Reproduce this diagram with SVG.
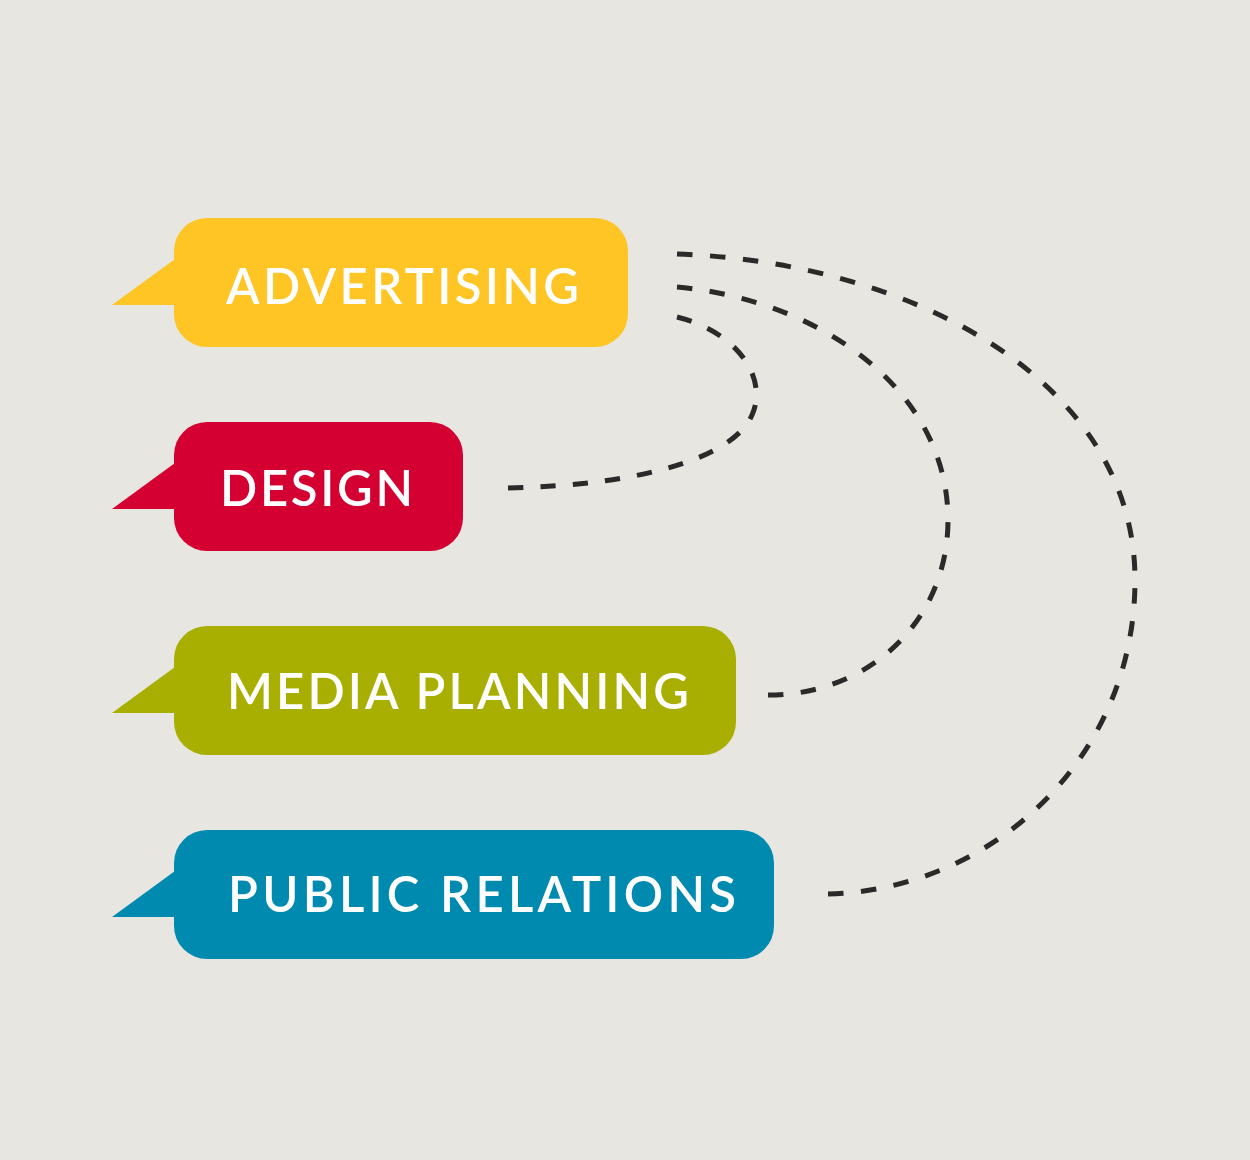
<svg xmlns="http://www.w3.org/2000/svg" width="1250" height="1160" viewBox="0 0 1250 1160">
<style>
.lbl{font-family:Lato,"Noto Sans","Liberation Sans",sans-serif;font-size:49px;font-weight:600;fill:#ffffff}
.dash{fill:none;stroke:#2b2a28;stroke-width:5;stroke-dasharray:15 17}
</style>
<rect x="0" y="0" width="1250" height="1160" fill="#e7e6e1"/>
<g id="advertising" fill="#fec524">
<rect x="174" y="218" width="454" height="129" rx="33"/>
<polygon points="175,259 112,305 175,305"/>
<text class="lbl" x="226" y="304" textLength="353" lengthAdjust="spacing">ADVERTISING</text>
</g>
<g id="design" fill="#d50032">
<rect x="174" y="422" width="289" height="129" rx="33"/>
<polygon points="175,463 112,509 175,509"/>
<text class="lbl" x="220" y="506" textLength="193" lengthAdjust="spacing">DESIGN</text>
</g>
<g id="media-planning" fill="#a9af00">
<rect x="174" y="626" width="562" height="129" rx="33"/>
<polygon points="175,667 112,713 175,713"/>
<text class="lbl" x="227" y="709" textLength="462" lengthAdjust="spacing">MEDIA PLANNING</text>
</g>
<g id="public-relations" fill="#008ab0">
<rect x="174" y="830" width="600" height="129" rx="33"/>
<polygon points="175,871 112,917 175,917"/>
<text class="lbl" x="228" y="912" textLength="508" lengthAdjust="spacing">PUBLIC RELATIONS</text>
</g>
<g id="connectors">
<path class="dash" pathLength="399" d="M677,317 C740,333 768,380 752,415 C735,455 650,485 508,488"/>
<path class="dash" pathLength="655" d="M677,287 C820,300 948,390 948,520 C948,620 870,695 768,695"/>
<path class="dash" pathLength="1071" d="M677,254 C910,262 1135,380 1135,580 C1135,760 990,890 828,894"/>
</g>
</svg>
